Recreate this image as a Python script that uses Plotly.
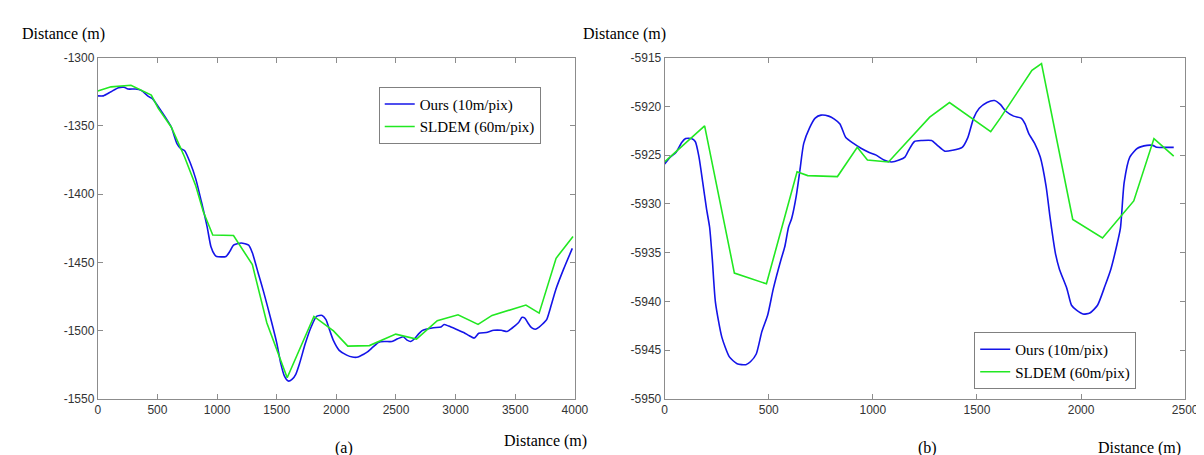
import plotly.graph_objects as go

W, H = 1204, 455

# ---------------- data: panel (a) ----------------
a_ours_x = [0,47,111,174,221,253,316,364,427,458,506,569,617,664,696,727,775,822,870,917,949,980,996,1075,1107,1138,1202,1265,1296,1344,1391,1455,1502,1534,1565,1597,1628,1660,1692,1739,1786,1834,1881,1913,1945,1976,2024,2087,2134,2182,2229,2261,2308,2356,2403,2466,2514,2561,2593,2624,2656,2688,2719,2751,2814,2877,2903,2941,3004,3068,3115,3156,3194,3257,3320,3383,3431,3462,3494,3526,3557,3580,3605,3636,3668,3700,3731,3763,3794,3842,3905,3978]
a_ours_y = [-1328,-1328,-1325,-1322,-1321.7,-1323,-1323,-1324,-1328.6,-1330,-1335.7,-1344,-1351,-1363,-1366.7,-1368,-1377,-1389,-1406,-1424,-1438.6,-1444.5,-1445.7,-1445.7,-1442,-1437.4,-1435.8,-1437.4,-1443,-1457.6,-1471.8,-1493,-1509.7,-1524,-1533.4,-1537,-1535.8,-1532,-1524,-1509.7,-1497.9,-1489.6,-1488.9,-1492,-1500,-1507.4,-1514.5,-1518,-1519.4,-1519.4,-1517.3,-1515.6,-1512,-1508.5,-1508,-1508,-1506,-1504.5,-1507,-1508,-1506,-1502.6,-1500,-1499,-1497.9,-1497.4,-1495.5,-1496.7,-1499,-1501.4,-1503.8,-1505.5,-1502,-1501.4,-1499.8,-1499.8,-1500.7,-1499,-1496.7,-1494.3,-1490.3,-1490.8,-1494.3,-1497.9,-1499,-1497.4,-1495,-1492,-1483.6,-1469.4,-1455,-1439.8]
a_sldem_x = [0,111,278,364,449,506,617,727,822,885,964,1138,1296,1417,1588,1812,1976,2096,2277,2498,2672,2846,3020,3188,3305,3589,3700,3842,3984]
a_sldem_y = [-1324.5,-1321.4,-1320.2,-1323.8,-1327.4,-1337,-1351,-1372.6,-1394,-1413,-1430,-1430.3,-1451.7,-1494.3,-1534.6,-1489.6,-1500.2,-1511.4,-1511,-1502.6,-1506.2,-1492.7,-1488.4,-1495.5,-1488.9,-1481.3,-1487.2,-1447,-1431]

# ---------------- data: panel (b) ----------------
b_ours_x = [0,27,55,82,101,128,147,165,183,201,216,229,244,275,311,348,390,412,440,467,495,522,559,577,595,610,632,650,668,696,723,751,788,815,842,870,907,943,980,1016,1053,1090,1126,1154,1172,1200,1236,1282,1310,1346,1383,1429,1456,1484,1511,1548,1584,1612,1639,1676,1712,1731,1749,1777,1804,1832,1850,1865,1877,1896,1932,1954,1978,2009,2042,2079,2115,2143,2170,2189,2207,2234,2271,2317,2344,2363,2408,2445]
b_ours_y = [-5925.9,-5925.2,-5924.7,-5923.7,-5923.3,-5923.3,-5923.6,-5925.2,-5927.8,-5930.5,-5932.4,-5935.7,-5940.1,-5943.7,-5945.7,-5946.4,-5946.5,-5946.2,-5945.4,-5943.1,-5941.4,-5938.7,-5935.7,-5934.4,-5932.4,-5931.5,-5929.2,-5926.5,-5923.8,-5922.2,-5921.2,-5920.9,-5921,-5921.3,-5921.8,-5923.2,-5923.8,-5924.3,-5924.7,-5925,-5925.5,-5925.7,-5925.5,-5925.2,-5924.5,-5923.6,-5923.5,-5923.5,-5924,-5924.6,-5924.5,-5924.2,-5923.2,-5921.2,-5920.2,-5919.6,-5919.4,-5919.8,-5920.5,-5921,-5921.2,-5921.8,-5922.8,-5923.8,-5925.2,-5928.2,-5931.2,-5933.5,-5935.1,-5936.7,-5938.7,-5940.4,-5940.9,-5941.3,-5941.2,-5940.4,-5938.4,-5936.7,-5934.4,-5932.5,-5927.8,-5925.2,-5924.3,-5924,-5924,-5924.2,-5924.2,-5924.2]
b_sldem_x = [0,64,192,335,489,636,687,830,925,974,1075,1273,1368,1566,1612,1764,1810,1960,2103,2253,2350,2445]
b_sldem_y = [-5925.7,-5924.5,-5922,-5937.1,-5938.2,-5926.7,-5927.1,-5927.2,-5924.2,-5925.5,-5925.7,-5921.1,-5919.6,-5922.6,-5921.2,-5916.3,-5915.6,-5931.6,-5933.5,-5929.7,-5923.3,-5925.1]

names = ["Ours (10m/pix)", "SLDEM (60m/pix)"]
a_xticks = [0, 500, 1000, 1500, 2000, 2500, 3000, 3500, 4000]
a_yticks = [-1550, -1500, -1450, -1400, -1350, -1300]
b_xticks = [0, 500, 1000, 1500, 2000, 2500]
b_yticks = [-5950, -5945, -5940, -5935, -5930, -5925, -5920, -5915]

BLUE = "#1414e8"
GREEN = "#22e822"
SERIF = "Liberation Serif, Times New Roman, serif"
SANS = "Liberation Sans, Arial, sans-serif"


def px(x):
    return x / W


def py(y):
    return 1 - y / H


fig = go.Figure()
fig.add_trace(go.Scatter(x=a_ours_x, y=a_ours_y, name=names[0], mode="lines",
                         line=dict(color=BLUE, width=1.6, shape="spline", smoothing=0.6),
                         xaxis="x", yaxis="y", legend="legend"))
fig.add_trace(go.Scatter(x=a_sldem_x, y=a_sldem_y, name=names[1], mode="lines",
                         line=dict(color=GREEN, width=1.6),
                         xaxis="x", yaxis="y", legend="legend"))
fig.add_trace(go.Scatter(x=b_ours_x, y=b_ours_y, name=names[0], mode="lines",
                         line=dict(color=BLUE, width=1.6, shape="spline", smoothing=0.6),
                         xaxis="x2", yaxis="y2", legend="legend2"))
fig.add_trace(go.Scatter(x=b_sldem_x, y=b_sldem_y, name=names[1], mode="lines",
                         line=dict(color=GREEN, width=1.6),
                         xaxis="x2", yaxis="y2", legend="legend2"))

axis_common = dict(showline=True, linecolor="#8c8c8c", linewidth=1, mirror="ticks",
                   ticks="inside", ticklen=5, tickcolor="#8c8c8c", showgrid=False,
                   zeroline=False, tickfont=dict(family=SANS, size=12, color="#333333"))


def labels(vals):
    return [str(v) for v in vals]


ydom = [py(396), py(44)]
legend_common = dict(xanchor="left", yanchor="top", bordercolor="#808080", borderwidth=1,
                     bgcolor="white", font=dict(family=SERIF, size=15, color="black"),
                     tracegroupgap=0)
fig.update_layout(
    width=W, height=H,
    margin=dict(l=0, r=0, t=0, b=0),
    paper_bgcolor="white", plot_bgcolor="white",
    xaxis=dict(domain=[px(88), px(572)], range=[0, 4000], tickvals=a_xticks,
               ticktext=labels(a_xticks), anchor="y", **axis_common),
    yaxis=dict(domain=ydom, range=[-1550, -1300], tickvals=a_yticks,
               ticktext=labels(a_yticks), anchor="x", **axis_common),
    xaxis2=dict(domain=[px(663), px(1191)], range=[0, 2500], tickvals=b_xticks,
                ticktext=labels(b_xticks), anchor="y2", **axis_common),
    yaxis2=dict(domain=ydom, range=[-5950, -5915], tickvals=b_yticks,
                ticktext=labels(b_yticks), anchor="x2", **axis_common),
    legend=dict(x=px(373), y=py(74), **legend_common),
    legend2=dict(x=px(977), y=py(327), **legend_common),
    showlegend=True,
)

ann_font = dict(family=SERIF, size=16, color="black")
annotations = [
    dict(text="Distance (m)", x=px(9), y=py(20), xanchor="left", yanchor="middle"),
    dict(text="Distance (m)", x=px(666), y=py(20), xanchor="right", yanchor="middle"),
    dict(text="Distance (m)", x=px(586), y=py(440), xanchor="right", yanchor="middle"),
    dict(text="Distance (m)", x=px(1189), y=py(447), xanchor="right", yanchor="middle"),
    dict(text="(a)", x=px(338), y=py(447), xanchor="center", yanchor="middle"),
    dict(text="(b)", x=px(930), y=py(447), xanchor="center", yanchor="middle"),
]
for a in annotations:
    fig.add_annotation(xref="paper", yref="paper", showarrow=False, font=ann_font, **a)

fig.write_html("out.html")
